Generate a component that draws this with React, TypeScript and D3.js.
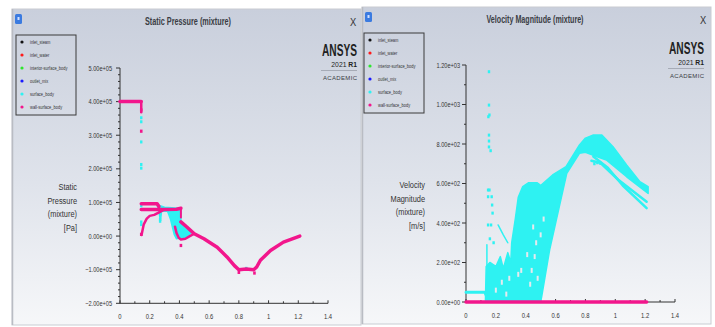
import * as d3 from 'd3';
import React from 'react';

// legend entries shared by both plots
const legendNames = ['inlet_steam', 'inlet_water', 'interior-surface_body', 'outlet_mix', 'surface_body', 'wall-surface_body'];
const legendColors = ['#111111', '#ff1a1a', '#2ee62e', '#1a1aff', '#2ef2f2', '#f2168c'];

const xTicks = [0, 0.2, 0.4, 0.6, 0.8, 1, 1.2, 1.4];
const pressureTicks = [-2e5, -1e5, 0, 1e5, 2e5, 3e5, 4e5, 5e5];
const velocityTicks = [0, 200, 400, 600, 800, 1000, 1200];

type P = [number, number];

// ---- Static pressure (x [m], Pa) ----
const presWallInlet: P[] = [[0, 4.0e5], [0.143, 4.0e5]];
const presWallDrop: P[] = [[0.143, 4.0e5], [0.143, 3.68e5]];
const presWallUpper: P[] = [[0.143, 0.96e5], [0.25, 0.96e5], [0.262, 0.88e5]];
const presWallMid: P[] = [[0.143, 0.79e5], [0.3, 0.79e5], [0.38, 0.8e5], [0.41, 0.83e5]];
const presWallRise: P[] = [[0.145, 0.03e5], [0.16, 0.35e5], [0.18, 0.52e5], [0.2, 0.6e5], [0.23, 0.63e5], [0.26, 0.7e5], [0.29, 0.77e5]];
const presWallLoop: P[] = [[0.37, 0.28e5], [0.38, 0.1e5], [0.395, -0.05e5], [0.41, -0.1e5], [0.44, -0.08e5], [0.47, 0.0], [0.5, 0.07e5]];
const presWallStep: P[] = [[0.41, 0.83e5], [0.41, 0.55e5]];
const presWallMain: P[] = [
  [0.41, 0.42e5], [0.45, 0.27e5], [0.5, 0.07e5], [0.565, -0.08e5], [0.654, -0.33e5], [0.72, -0.62e5],
  [0.77, -0.88e5], [0.8, -1.0e5], [0.85, -0.98e5], [0.9, -1.0e5], [0.92, -0.92e5], [0.945, -0.72e5],
  [1.013, -0.43e5], [1.1, -0.18e5], [1.21, 0],
];
const presWallDots: P[] = [[0.143, 3.12e5], [0.143, 3.75e5], [0.41, -0.28e5], [0.8, -1.08e5], [0.905, -1.1e5], [0.143, 0.05e5]];
const presSurfBlob: P[] = [
  [0.25, 0.93e5], [0.3, 0.86e5], [0.41, 0.82e5], [0.41, 0.45e5], [0.48, 0.1e5], [0.44, -0.05e5],
  [0.41, -0.06e5], [0.38, -0.08e5], [0.365, 0.05e5], [0.34, 0.5e5], [0.32, 0.74e5], [0.28, 0.74e5],
  [0.272, 0.45e5], [0.262, 0.74e5],
];
const presSurfDots: P[] = [
  [0.143, 3.52e5], [0.143, 3.4e5], [0.143, 2.8e5], [0.143, 2.13e5], [0.143, 2.02e5],
  [0.143, 0.9e5], [0.143, 0.42e5], [0.143, 0.34e5], [0.27, 0.5e5], [0.27, 0.44e5], [0.85, -0.96e5],
];

// ---- Velocity magnitude (x [m], m/s) ----
const velSurfInlet: P[] = [[0, 50], [0.125, 50], [0.135, 35], [0.15, 10]];
const velSurfSpike: P[] = [[0.14, 0], [0.14, 290]];
const velSurfBlob: P[] = [
  [0.13, 0], [0.135, 180], [0.16, 200], [0.2, 180], [0.23, 230], [0.25, 170], [0.28, 250], [0.3, 200],
  [0.306, 300], [0.33, 420], [0.35, 530], [0.38, 584], [0.42, 604], [0.475, 604], [0.5, 590], [0.58, 643],
  [0.67, 685], [0.76, 795], [0.8, 830], [0.85, 845], [0.91, 845], [0.985, 786], [1.076, 694], [1.165, 609],
  [1.22, 584], [1.22, 550], [1.076, 634], [0.94, 719], [0.875, 736], [0.8, 758], [0.76, 753], [0.675, 651],
  [0.6, 398], [0.56, 263], [0.507, 27], [0.5, 0],
];
const velSurfStreakA: P[] = [[0.853, 737], [0.95, 680], [1.05, 590], [1.21, 475]];
const velSurfStreakB: P[] = [[0.84, 715], [0.9, 705], [1.02, 619], [1.21, 508]];
const velSurfStreakC: P[] = [[0.215, 390], [0.25, 340], [0.28, 300]];
const velSurfDots: P[] = [
  [0.154, 1166], [0.154, 997], [0.157, 947], [0.15, 938], [0.154, 845], [0.154, 815], [0.154, 785],
  [0.165, 766], [0.148, 567], [0.157, 567], [0.148, 533], [0.172, 533], [0.175, 491], [0.178, 450],
  [0.148, 390], [0.168, 390], [0.16, 320], [0.185, 300], [0.86, 700], [0.88, 705], [0.9, 702],
];
// light gaps seen through the dense surface cloud
const velSurfGaps: P[] = [
  [0.35, 140], [0.37, 160], [0.43, 90], [0.44, 160], [0.46, 230], [0.48, 120], [0.47, 300],
  [0.45, 380], [0.5, 340], [0.52, 420], [0.2, 60], [0.24, 100], [0.29, 120], [0.27, 40], [0.41, 240],
];
const velWall: P[] = [[0, 0], [1.21, 0]];

const font = "'Liberation Sans', Arial, sans-serif";

const sci = (v: number) => d3.format('.2e')(v).replace(/e([+-])(\d)$/, 'e$10$2');
const xFmt = d3.format('~g');

// horizontally squeezed text, the Fluent plots use a narrow face
function NText({ x, y, size, anchor = 'start', sx = 0.78, weight, fill = '#333', children }: {
  x: number; y: number; size: number; anchor?: string; sx?: number; weight?: string; fill?: string; children: React.ReactNode;
}) {
  return (
    <text transform={`translate(${x},${y}) scale(${sx},1)`} textAnchor={anchor} fontSize={size}
      fontWeight={weight} fill={fill} stroke="none" fontFamily={font}>{children}</text>
  );
}

function Frame({ x, y, w, h, title, tx, tw }: { x: number; y: number; w: number; h: number; title: string; tx: number; tw: number }) {
  return (
    <g>
      <rect x={x} y={y} width={w} height={h} fill="url(#bg)" stroke="#c9ccd2" strokeWidth={1} />
      <line x1={x + 0.5} x2={x + 0.5} y1={y} y2={y + h} stroke="#b9bcc3" strokeWidth={1.5} />
      <rect x={x + 3} y={y + 5} width={7} height={10} rx={1.5} fill="#3b7be0" />
      <rect x={x + 5.5} y={y + 8} width={2} height={3} fill="#cfe0ff" />
      <text x={tx} y={y + 16} textAnchor="middle" fontSize={10} fontWeight="bold" fill="#3a3d44" fontFamily={font}
        textLength={tw} lengthAdjust="spacingAndGlyphs">{title}</text>
      <NText x={x + w - 8} y={y + 17} size={11} anchor="middle" sx={0.85}>X</NText>
    </g>
  );
}

function Legend({ x, y }: { x: number; y: number }) {
  return (
    <g>
      <rect x={x} y={y} width={60} height={80} fill="none" stroke="#3a3a3a" strokeWidth={1} />
      {legendNames.map((n, i) => (
        <g key={n}>
          <circle cx={x + 6} cy={y + 7 + i * 13} r={1.6} fill={legendColors[i]} />
          <NText x={x + 14} y={y + 8.8 + i * 13} size={5} sx={0.8}>{n}</NText>
        </g>
      ))}
    </g>
  );
}

function Logo({ rx, y }: { rx: number; y: number }) {
  return (
    <g fontFamily={font} fill="#1e1f22">
      <text x={rx} y={y} textAnchor="end" fontSize={16} fontWeight="bold" textLength={35} lengthAdjust="spacingAndGlyphs">ANSYS</text>
      <NText x={rx} y={y + 10.5} size={8} anchor="end" sx={0.85} fill="#1e1f22">
        2021 <tspan fontWeight="bold">R1</tspan>
      </NText>
      <line x1={rx - 36} x2={rx} y1={y + 14.5} y2={y + 14.5} stroke="#8a8f99" strokeWidth={0.6} />
      <text x={rx} y={y + 24} textAnchor="end" fontSize={6} fill="#3a3d44" textLength={34} lengthAdjust="spacing">ACADEMIC</text>
    </g>
  );
}

function Axes({ x, y, ticks, minor, label, labelX, labelY, tickX }: {
  x: d3.ScaleLinear<number, number>; y: d3.ScaleLinear<number, number>; ticks: number[]; minor: number;
  label: string[]; labelX: number; labelY: number; tickX: number;
}) {
  const [x0, x1] = x.range();
  const [yb, yt] = y.range();
  const step = ticks[1] - ticks[0];
  const minors: number[] = [];
  ticks.slice(0, -1).forEach(t => { for (let k = 1; k <= minor; k++) minors.push(t + (step * k) / (minor + 1)); });
  const xMinors = xTicks.slice(0, -1).map(t => t + 0.1);
  return (
    <g stroke="#333">
      <line x1={x0} x2={x0} y1={yb} y2={yt} strokeWidth={1} />
      <line x1={x0} x2={x1} y1={yb} y2={yb} strokeWidth={1} />
      {ticks.map(t => (
        <g key={t}>
          <line x1={x0 - 4} x2={x0} y1={y(t)} y2={y(t)} />
          <NText x={tickX} y={y(t) + 2.5} size={7.2} anchor="end" sx={0.78}>{sci(t)}</NText>
        </g>
      ))}
      {minors.map(t => <line key={t} x1={x0 - 2} x2={x0} y1={y(t)} y2={y(t)} />)}
      {xTicks.map(t => (
        <g key={t}>
          <line x1={x(t)} x2={x(t)} y1={yb} y2={yb - 3} />
          <NText x={x(t)} y={yb + 16} size={7.5} anchor="middle" sx={0.78}>{xFmt(t)}</NText>
        </g>
      ))}
      {xMinors.map(t => <line key={t} x1={x(t)} x2={x(t)} y1={yb} y2={yb - 2} />)}
      {label.map((l, i) => (
        <NText key={l} x={labelX} y={labelY + i * 13.7} size={9.5} anchor="end" sx={0.78}>{l}</NText>
      ))}
    </g>
  );
}

const CYAN = legendColors[4];
const PINK = legendColors[5];

export default function App() {
  const px = d3.scaleLinear().domain([0, 1.4]).range([120, 328]);
  const py = d3.scaleLinear().domain([-2e5, 5e5]).range([303.3, 68]);
  const vx = d3.scaleLinear().domain([0, 1.4]).range([466, 675]);
  const vy = d3.scaleLinear().domain([0, 1200]).range([302, 65]);

  const pLine = d3.line<P>().x(d => px(d[0])).y(d => py(d[1]));
  const pArea = d3.line<P>().x(d => px(d[0])).y(d => py(d[1])).curve(d3.curveLinearClosed);
  const vLine = d3.line<P>().x(d => vx(d[0])).y(d => vy(d[1]));
  const vArea = d3.line<P>().x(d => vx(d[0])).y(d => vy(d[1])).curve(d3.curveLinearClosed);

  const path = (d: string | null, c: string, w: number) => (
    <path d={d || ''} fill="none" stroke={c} strokeWidth={w} strokeLinecap="round" strokeLinejoin="round" />
  );

  return (
    <svg width={715} height={327} style={{ position: 'absolute', left: 0, top: 0, background: '#fff' }}>
      <defs>
        <linearGradient id="bg" x1="0" y1="0" x2="0" y2="1">
          <stop offset="0" stopColor="#c9cfdc" />
          <stop offset="0.55" stopColor="#dfe3eb" />
          <stop offset="1" stopColor="#f6f7f9" />
        </linearGradient>
      </defs>

      {/* ---- left: static pressure ---- */}
      <Frame x={12} y={9} w={349} h={316} title="Static Pressure (mixture)" tx={188} tw={86} />
      <Legend x={16} y={35} />
      <Logo rx={357} y={56} />
      <Axes x={px} y={py} ticks={pressureTicks} minor={4} label={['Static', 'Pressure', '(mixture)', '[Pa]']}
        labelX={77} labelY={190} tickX={112} />
      <path d={pArea(presSurfBlob) || ''} fill={CYAN} stroke={CYAN} strokeWidth={1.5} />
      {presSurfDots.map((d, i) => <rect key={i} x={px(d[0]) - 1.2} y={py(d[1]) - 1.5} width={2.4} height={3} fill={CYAN} />)}
      {path(pLine(presWallInlet), PINK, 3.5)}
      {path(pLine(presWallDrop), PINK, 2.5)}
      {path(pLine(presWallUpper), PINK, 3.5)}
      {path(pLine(presWallMid), PINK, 3.5)}
      {path(pLine(presWallRise), PINK, 2.5)}
      {path(pLine(presWallLoop), PINK, 2.5)}
      {path(pLine(presWallStep), PINK, 2)}
      {path(pLine(presWallMain), PINK, 3.5)}
      {presWallDots.map((d, i) => <rect key={i} x={px(d[0]) - 1.3} y={py(d[1]) - 1.6} width={2.6} height={3.2} fill={PINK} />)}

      {/* ---- right: velocity magnitude ---- */}
      <Frame x={362} y={7} w={349} h={317} title="Velocity Magnitude (mixture)" tx={535} tw={97} />
      <Legend x={364} y={33} />
      <Logo rx={704} y={54} />
      <Axes x={vx} y={vy} ticks={velocityTicks} minor={1} label={['Velocity', 'Magnitude', '(mixture)', '[m/s]']}
        labelX={425} labelY={188} tickX={460} />
      <path d={vArea(velSurfBlob) || ''} fill={CYAN} stroke={CYAN} strokeWidth={1.5} strokeLinejoin="round" />
      {velSurfGaps.map((d, i) => <rect key={i} x={vx(d[0]) - 1} y={vy(d[1]) - 2.5} width={2} height={5} fill="#e6e9ef" />)}
      {path(vLine(velSurfInlet), CYAN, 3)}
      {path(vLine(velSurfSpike), CYAN, 1.5)}
      {path(vLine(velSurfStreakA), CYAN, 2.5)}
      {path(vLine(velSurfStreakB), CYAN, 2.5)}
      {path(vLine(velSurfStreakC), CYAN, 1.5)}
      {velSurfDots.map((d, i) => <rect key={i} x={vx(d[0]) - 1.2} y={vy(d[1]) - 1.5} width={2.4} height={3} fill={CYAN} />)}
      {path(vLine(velWall), PINK, 3.5)}
    </svg>
  );
}
